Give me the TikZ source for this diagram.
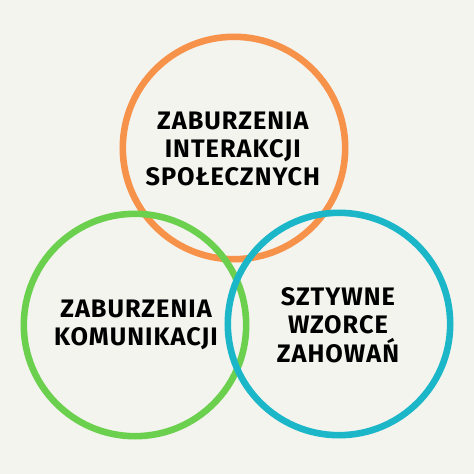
\documentclass[tikz,border=0pt]{standalone}
\usepackage{fontspec}
\setmainfont{Fira Sans}[LetterSpace=4]
\usepackage{tikz}

\definecolor{tlo}{HTML}{F4F4EF}
\definecolor{pomarancz}{HTML}{F7924A}
\definecolor{zielony}{HTML}{6BD04E}
\definecolor{turkus}{HTML}{1BB6C8}

\begin{document}
\begin{tikzpicture}[
        krag/.style = {line width = 0.165cm},
        opis/.style = {align = center, inner sep = 0pt,
            font = \fontsize{18}{20}\selectfont\bfseries}
    ]
        \pgfmathsetmacro{\r}{2.78};
        \fill [tlo] (0,0) rectangle (11.85,11.85);
        \useasboundingbox (0,0) rectangle (11.85,11.85);
        \coordinate (s1) at (5.85, 8.15);
        \coordinate (s2) at (3.375, 3.725);
        \coordinate (s3) at (8.475, 3.75);
        \draw [krag, pomarancz] (s1) circle [radius = \r];
        \draw [krag, zielony] (s2) circle [radius = \r];
        \draw [krag, turkus] (s3) circle [radius = \r];
        \node [opis] (interakcje) at (5.82, 8.12) {ZABURZENIA\\INTERAKCJI\\SPOŁECZNYCH};
        \node [opis] (komunikacja) at (3.4, 3.72) {ZABURZENIA\\KOMUNIKACJI};
        \node [opis] (zachowania) at (8.45, 3.72) {SZTYWNE\\WZORCE\\ZAHOWAŃ};
    \end{tikzpicture}
\end{document}
